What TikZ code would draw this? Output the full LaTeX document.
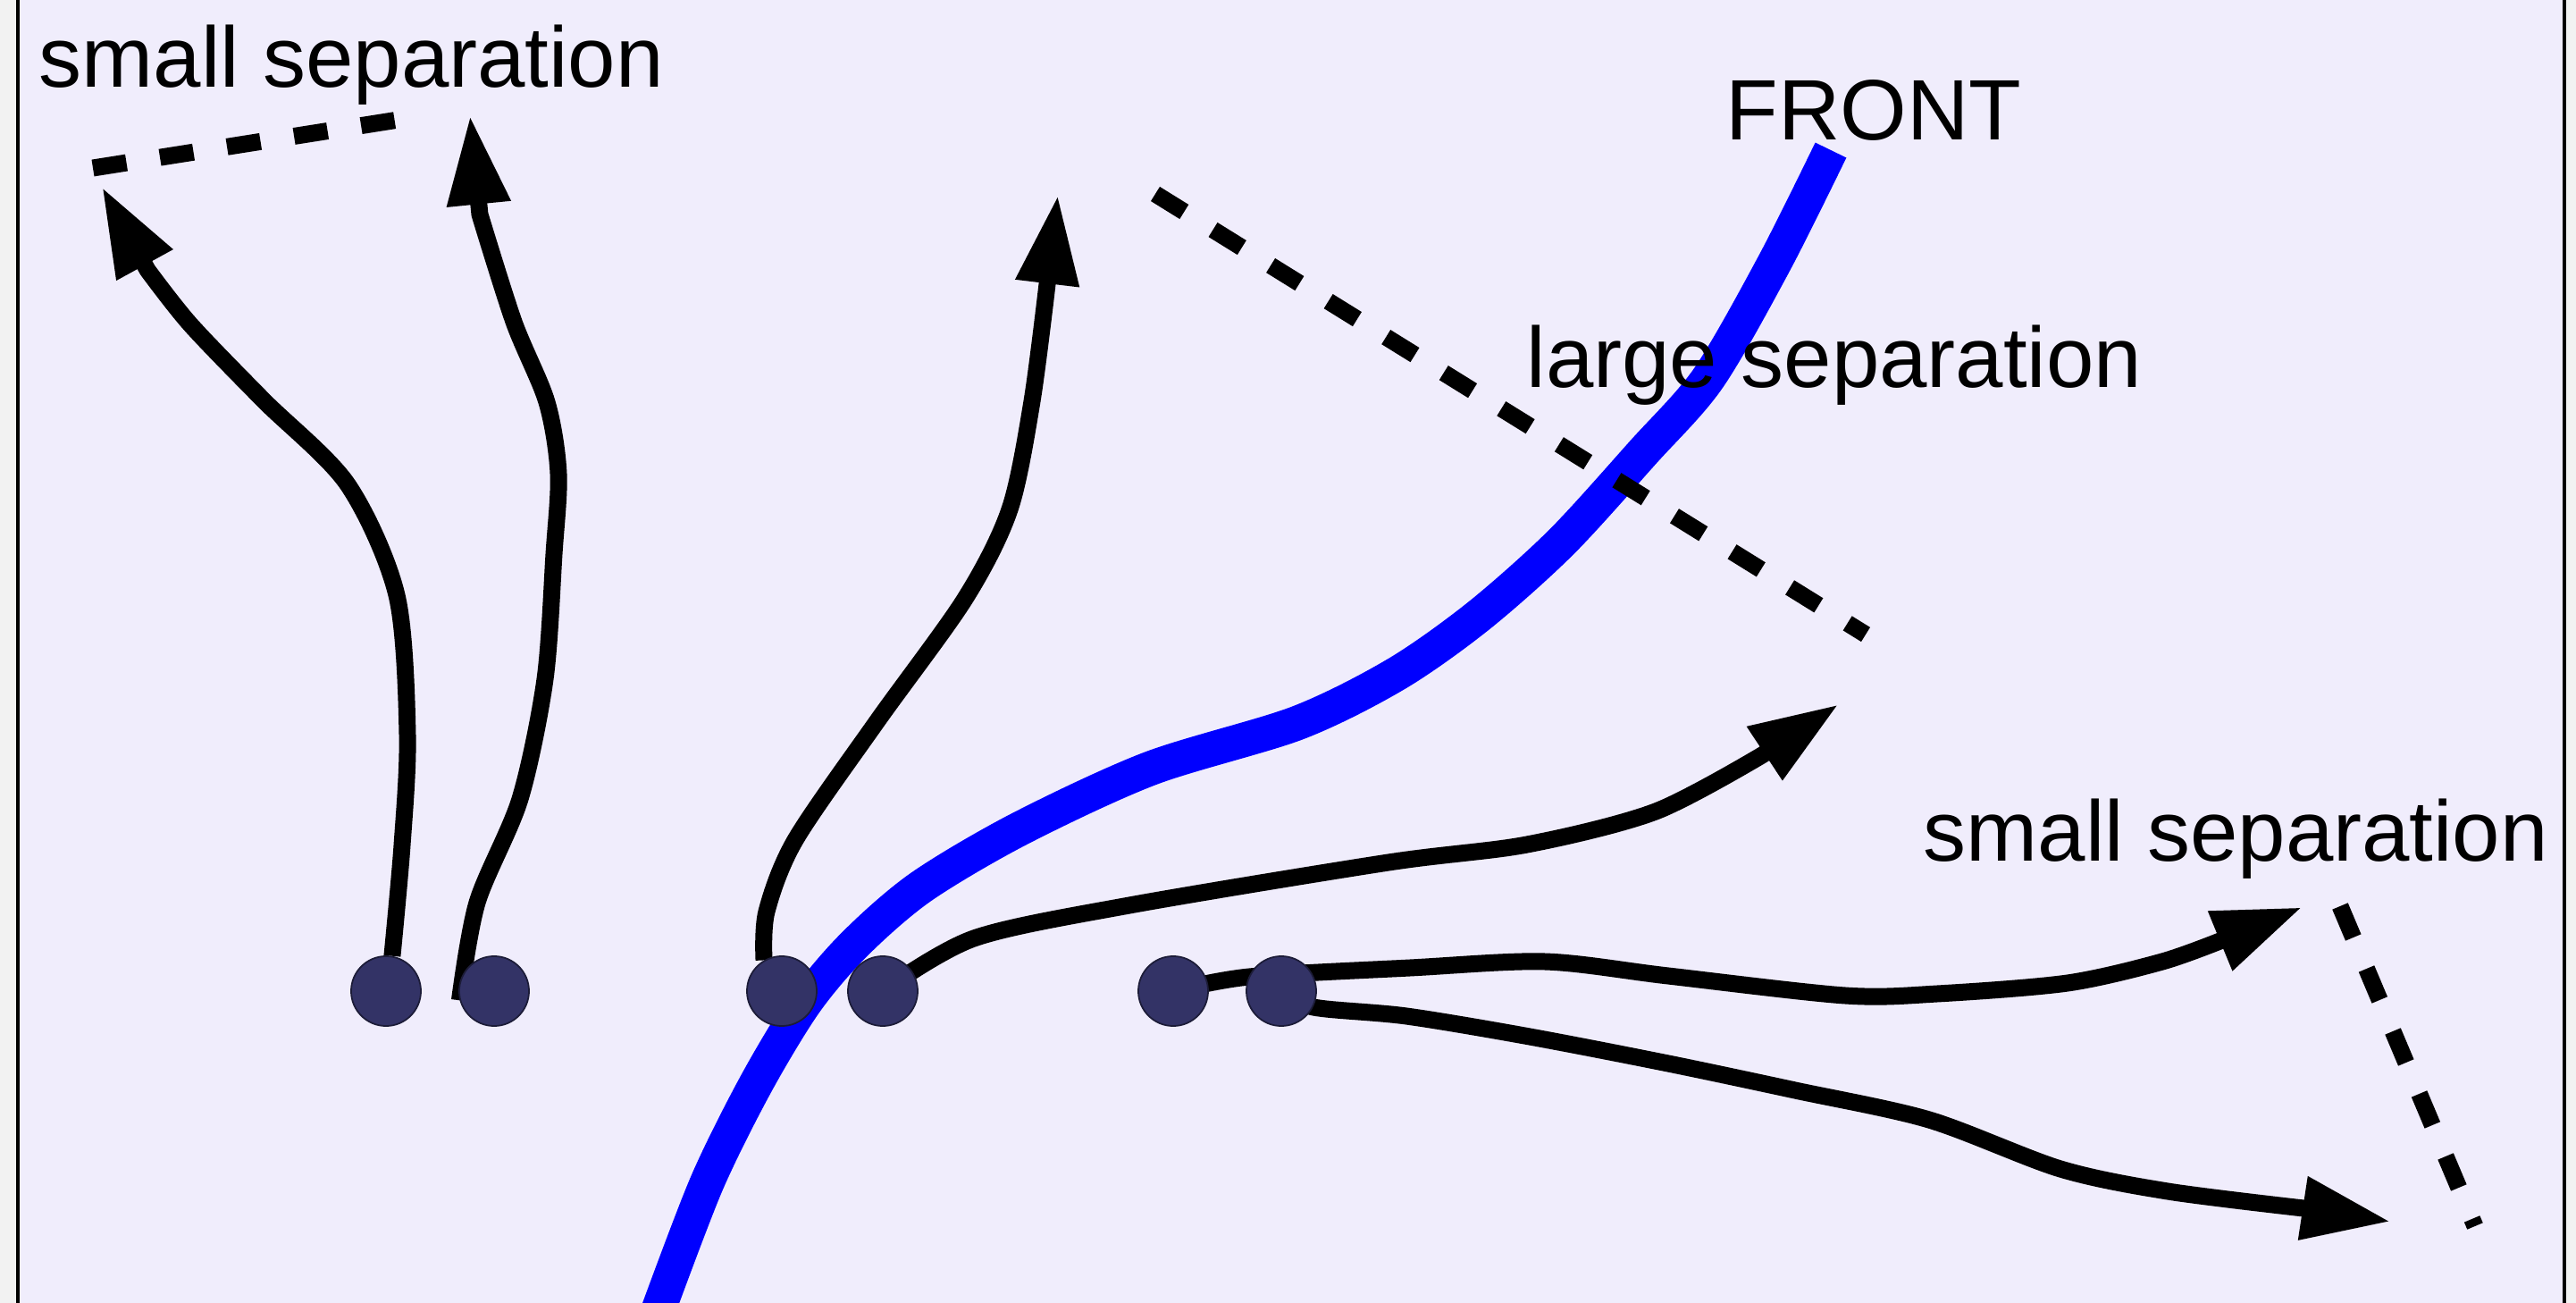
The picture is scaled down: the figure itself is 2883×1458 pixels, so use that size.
\documentclass[tikz,border=0pt]{standalone}
\usepackage{fontspec}
\setmainfont{Liberation Sans}
\usetikzlibrary{arrows.meta}
\definecolor{cBack}{RGB}{240,237,252}
\definecolor{cStrip}{RGB}{242,242,242}
\definecolor{cDot}{RGB}{51,51,102}
\definecolor{cDotLine}{RGB}{28,28,56}
\definecolor{cFront}{RGB}{0,0,255}
\pgfdeclarelayer{frame}
\pgfdeclarelayer{paths}
\pgfsetlayers{frame,paths,main}
\tikzset{
  %% particle markers
  particle/.style={circle, fill=cDot, draw=cDotLine, line width=0.5pt,
                   minimum size=0.78cm, inner sep=0pt},
  %% particle paths
  traj/.style={draw=black, line width=5.4pt, line join=round,
               -{Triangle[length=28.4pt, width=19pt]}},
  %% separation markers
  sepline/.style={draw=black, line width=5.4pt,
                  dash pattern=on 10.8pt off 10.8pt},
  %% the front
  frontline/.style={draw=cFront, line width=11pt},
  %% text labels
  lbl/.style={font=\fontsize{27.3}{32}\selectfont, inner sep=0pt,
              anchor=base west},
}

\begin{document}
\begin{tikzpicture}[x=0.01cm, y=-0.01cm]
\useasboundingbox (0,0) rectangle (2883,1458);

%% ============================================================
%%  FRAME
%% ============================================================
\begin{pgfonlayer}{frame}
\fill[cStrip] (0,0) rectangle (2883,1458);
\draw[fill=cBack, line width=1.14pt] (20,-20) rectangle (2870,1478);
\end{pgfonlayer}

%% ============================================================
%%  PARTICLES  (row at y = \ydot)
%% ============================================================
\def\ydot{1109}
\node[particle] (d1) at (432,\ydot)  {};
\node[particle] (d2) at (553,\ydot)  {};
\node[particle] (d3) at (875,\ydot)  {};
\node[particle] (d4) at (988,\ydot)  {};
\node[particle] (d5) at (1313,\ydot) {};
\node[particle] (d6) at (1434,\ydot) {};

%% ----- arrow tips -----
\coordinate (t1) at (114,209);
\coordinate (t2) at (526,129);
\coordinate (t3) at (1184,218);
\coordinate (t4) at (2058,788);
\coordinate (t5) at (2577,1015);
\coordinate (t6) at (2676,1367);

\begin{pgfonlayer}{paths}
%% ============================================================
%%  FRONT (blue)
%% ============================================================
\draw[frontline] plot[smooth] coordinates {
  (736,1468) (791,1324) (846,1213) (901,1122) (956,1057) (1030,993)
  (1140,928) (1287,860) (1452,809) (1563,754) (1655,689) (1747,607)
  (1839,506) (1912,423) (1986,294) (2049,168)};

%% ============================================================
%%  TRAJECTORIES
%% ============================================================
\draw[traj] plot[smooth] coordinates {
  (d1.80) (450,946) (456,822) (444,666) (389,542) (295,448) (213,363)
  (165,302)} -- (t1);
\draw[traj] plot[smooth] coordinates {
  (d2.195) (534,1010) (582,894) (610,760) (620,620) (625,530) (612,450)
  (575,360) (537,240)} -- (t2);
\draw[traj] plot[smooth] coordinates {
  (d3.120) (858,1020) (890,940) (981,808) (1080,670) (1130,570)
  (1155,449) (1172,318)} -- (t3);
\draw[traj] plot[smooth] coordinates {
  (d4) (1090,1050) (1264,1013) (1554,965) (1709,945) (1853,908)
  (1972,845)} -- (t4);
\draw[traj] plot[smooth] coordinates {
  (d5) (1398,1093) (1578,1083) (1729,1076) (1867,1092) (2065,1114)
  (2168,1112) (2314,1100) (2420,1076) (2487,1052)} -- (t5);
\draw[traj] plot[smooth] coordinates {
  (d6) (1470,1127) (1574,1137) (1712,1160) (1867,1190) (2009,1220)
  (2159,1253) (2306,1308) (2426,1333) (2578,1352)} -- (t6);
\end{pgfonlayer}

%% ============================================================
%%  SEPARATION MARKERS
%% ============================================================
\draw[sepline] (104,188) -- (446,134);
\draw[sepline] (1293,217) -- (2088,710);
\draw[sepline] (2619,1014) -- (2770,1372);

%% ============================================================
%%  LABELS
%% ============================================================
\node[lbl] (sepTL)    at (43,98)    {small separation};
\node[lbl] (front)    at (1931,157) {FRONT};
\node[lbl] (sepLarge) at (1708,434) {large separation};
\node[lbl] (sepBR)    at (2152,963) {small separation};

\end{tikzpicture}
\end{document}
